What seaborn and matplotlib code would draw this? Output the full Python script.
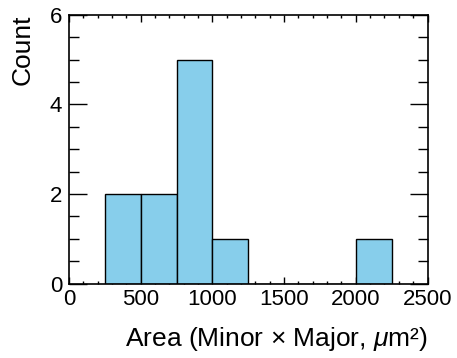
import matplotlib
matplotlib.use("Agg")
import matplotlib.pyplot as plt
import seaborn as sns
import numpy as np
from matplotlib.ticker import MultipleLocator

bin_edges = [250, 500, 750, 1000, 1250, 1500, 1750, 2000, 2250]
bin_counts = [2, 2, 5, 1, 0, 0, 0, 1]
bin_centers = [(a + b) / 2 for a, b in zip(bin_edges[:-1], bin_edges[1:])]

sns.set_style("ticks")
plt.rcParams['font.family'] = ['Liberation Sans', 'DejaVu Sans']
plt.rcParams['mathtext.fontset'] = 'custom'
plt.rcParams['mathtext.it'] = 'Liberation Sans:italic'
plt.rcParams['mathtext.rm'] = 'Liberation Sans'
plt.rcParams['text.color'] = 'black'
plt.rcParams['axes.labelcolor'] = 'black'

W, H = 457, 358
L, R, T, B = 69, 427.5, 14.7, 283.5
fig = plt.figure(figsize=(W/100, H/100), dpi=100)
ax = fig.add_axes([L/W, 1 - B/H, (R-L)/W, (B-T)/H])
sns.histplot(x=bin_centers, weights=bin_counts, bins=bin_edges, ax=ax,
             color="#87CEEB", edgecolor="black", linewidth=1.0, alpha=1.0)
ax.set_xlim(0, 2500)
ax.set_ylim(0, 6)
ax.xaxis.set_major_locator(MultipleLocator(500))
ax.xaxis.set_minor_locator(MultipleLocator(100))
ax.yaxis.set_major_locator(MultipleLocator(2))
ax.yaxis.set_minor_locator(MultipleLocator(0.5))
ax.tick_params(which='both', direction='in', top=True, right=True, labelsize=16,
               colors='black', labelcolor='black')
ax.tick_params(axis='x', which='major', length=5, width=1, pad=4)
ax.tick_params(axis='x', which='minor', length=2.5, width=1)
ax.tick_params(axis='y', which='major', length=13, width=1, pad=5)
ax.tick_params(axis='y', which='minor', length=7, width=1)
for s in ax.spines.values():
    s.set_linewidth(1.2)
    s.set_color('black')
ax.set_xlabel("Area (Minor × Major, $\\mu$m²)", fontsize=19, labelpad=11,
              x=1.0, ha='right', color='black')
ax.set_ylabel("Count", fontsize=19, labelpad=11, y=1.0, ha='right', color='black')
fig.savefig("out.png", dpi=100)
